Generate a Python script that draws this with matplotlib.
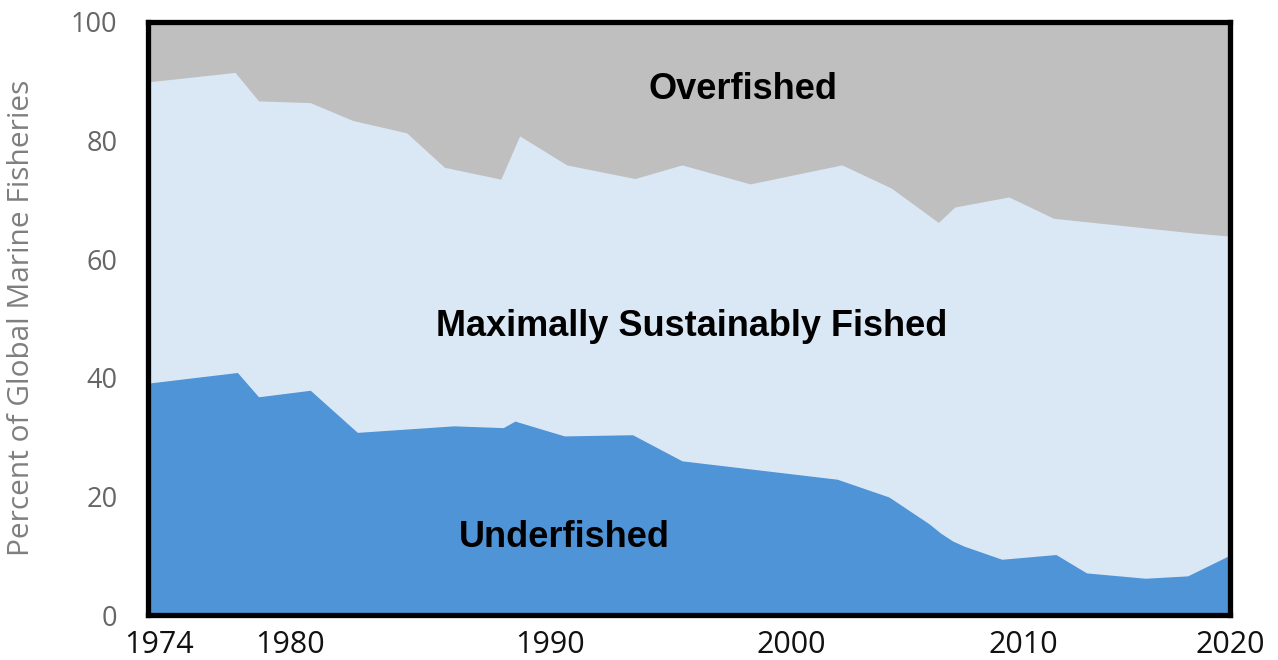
import matplotlib
matplotlib.use("Agg")
import matplotlib.pyplot as plt

# Upper edge of the "Maximally Sustainably Fished" band (= 100 - overfished share)
msy_top_years = [1974.0, 1977.7, 1978.7, 1980.9, 1982.7, 1985.0, 1986.6, 1989.0, 1989.8,
                 1991.8, 1994.7, 1996.7, 1999.6, 2003.5, 2005.6, 2007.6, 2008.3, 2010.6,
                 2012.5, 2018.5, 2020.0]
msy_top_values = [89.9, 91.5, 86.7, 86.4, 83.4, 81.3, 75.5, 73.5, 80.8,
                  75.9, 73.6, 75.9, 72.7, 75.9, 72.0, 66.2, 68.8, 70.5,
                  66.9, 64.4, 63.9]

# Underfished share
under_years = [1974.0, 1977.8, 1978.7, 1980.9, 1982.9, 1987.0, 1989.1, 1989.6, 1991.7,
               1994.6, 1996.7, 2003.3, 2005.5, 2007.2, 2007.7, 2008.2, 2008.7, 2010.3,
               2012.6, 2013.9, 2016.4, 2018.2, 2020.0]
under_values = [39.1, 40.9, 36.8, 37.9, 30.8, 31.9, 31.6, 32.7, 30.2,
                30.4, 26.0, 22.9, 19.9, 15.4, 13.8, 12.5, 11.6, 9.4,
                10.2, 7.1, 6.2, 6.6, 10.1]

x_tick_labels = ["1974", "1980", "1990", "2000", "2010", "2020"]
y_ticks = [0, 20, 40, 60, 80, 100]

labels = ["Overfished", "Maximally Sustainably Fished", "Underfished"]

# layout (label placement as drawn in the reference, which is not exactly on the year scale)
x_tick_pos = [1974.45, 1980.05, 1991.1, 2001.35, 2011.2, 2020.0]
label_pos = [(1999.3, 88.7), (1997.1, 48.6), (1991.7, 13.1)]

c_over = "#BFBFBF"
c_msy = "#DAE8F5"
c_under = "#4F94D7"

fig = plt.figure(figsize=(12.78, 6.6), dpi=100)
ax = fig.add_axes([148 / 1278, 1 - 615 / 660, (1230 - 148) / 1278, (615 - 22) / 660])

ax.fill_between([1974, 2020], [0, 0], [100, 100], color=c_over, lw=0)
ax.fill_between(msy_top_years, 0, msy_top_values, color=c_msy, lw=0)
ax.fill_between(under_years, 0, under_values, color=c_under, lw=0)

ax.set_xlim(1974, 2020)
ax.set_ylim(0, 100)
ax.set_xticks(x_tick_pos)
ax.set_xticklabels(x_tick_labels, fontsize=22, color="#111111",
                   family=["Open Sans", "DejaVu Sans"])
ax.set_yticks(y_ticks)
ax.set_yticklabels([str(t) for t in y_ticks], fontsize=19.5, color="#666666",
                   family=["Open Sans", "DejaVu Sans"])
ax.tick_params(length=0)
ax.tick_params(axis="y", pad=22)
ax.tick_params(axis="x", pad=11)

for s in ax.spines.values():
    s.set_linewidth(3.8)
    s.set_color("black")

fig.text(22 / 1278, 1 - 318 / 660, "Percent of Global Marine Fisheries", rotation=90,
         ha="center", va="center", fontsize=21.5, color="#7F7F7F",
         family=["Open Sans", "DejaVu Sans"])

for text, (tx, ty) in zip(labels, label_pos):
    ax.text(tx, ty, text, ha="center", va="center", fontsize=26, fontweight="bold",
            color="black", family=["Liberation Sans", "DejaVu Sans"])

fig.savefig("out.png", dpi=100)
